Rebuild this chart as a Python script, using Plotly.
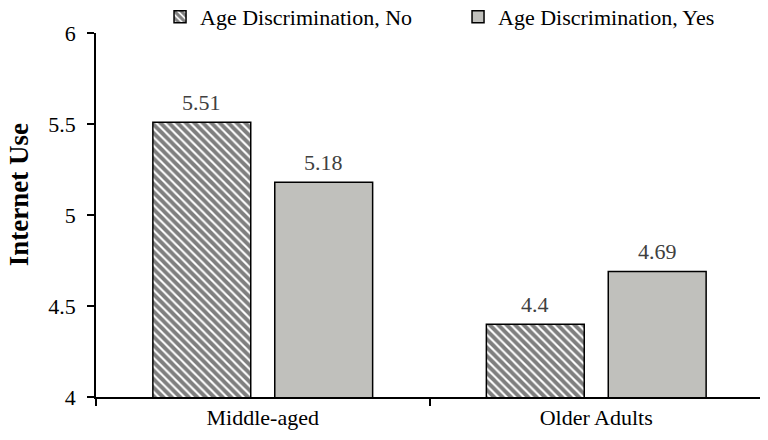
import plotly.graph_objects as go

categories = ["Middle-aged", "Older Adults"]
series_names = ["Age Discrimination, No", "Age Discrimination, Yes"]
values_no = [5.51, 4.4]
values_yes = [5.18, 4.69]
y_ticks = [4, 4.5, 5, 5.5, 6]
y_tick_labels = ["4", "4.5", "5", "5.5", "6"]
y_title = "Internet Use"

font_family = "Liberation Serif, Times New Roman, serif"

fig = go.Figure()
fig.add_trace(go.Bar(
    name=series_names[0], x=categories, y=values_no,
    marker=dict(color="white", line=dict(color="black", width=1.5),
                pattern=dict(shape="\\", size=6, solidity=0.65, fgcolor="black", bgcolor="white")),
))
fig.add_trace(go.Bar(
    name=series_names[1], x=categories, y=values_yes,
    marker=dict(color="#c0c0bc", line=dict(color="black", width=1.5)),
))

slot_shift = 61
for i, c in enumerate(categories):
    for vals, sh in ((values_no, -slot_shift), (values_yes, slot_shift)):
        fig.add_annotation(x=c, y=vals[i], text=f"{vals[i]:g}", showarrow=False,
                           xshift=sh, yshift=20, font=dict(size=22, color="#404040", family=font_family))

fig.add_annotation(xref="paper", yref="paper", x=-0.115, y=0.555, xanchor="center", yanchor="middle",
                   text=f"<b>{y_title}</b>", textangle=-90, showarrow=False,
                   font=dict(size=27, color="black", family=font_family))

fig.update_layout(
    width=768, height=440,
    margin=dict(l=88, r=13, t=25, b=51, autoexpand=False),
    paper_bgcolor="white", plot_bgcolor="white",
    barmode="group", bargap=0.269, bargroupgap=0.197,
    font=dict(family=font_family, size=22, color="black"),
    legend=dict(orientation="h", x=0.096, y=1.044, xanchor="left", yanchor="middle",
                font=dict(size=22, color="black"), itemwidth=30, traceorder="normal",
                entrywidth=253, entrywidthmode="pixels",
                bgcolor="rgba(0,0,0,0)"),
    showlegend=True,
)
fig.update_yaxes(range=[4, 6], tickvals=y_ticks, ticktext=y_tick_labels,
                 showgrid=False, zeroline=False, showline=True, linecolor="black", linewidth=1.5,
                 ticks="outside", ticklen=7, tickcolor="black", tickwidth=1.5,
                 ticklabelstandoff=7,
                 tickfont=dict(size=22, color="black"))
fig.update_xaxes(showgrid=False, showline=True, linecolor="black", linewidth=1.5,
                 ticks="outside", tickson="boundaries", ticklen=7, tickcolor="black", tickwidth=1.5,
                 tickfont=dict(size=22, color="black"))

fig.write_html("out.html")
